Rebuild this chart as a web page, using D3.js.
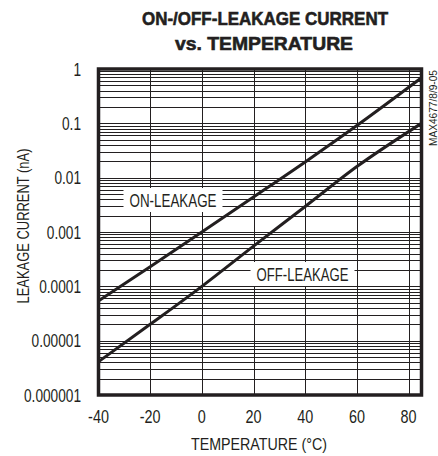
<!DOCTYPE html>
<html>
<head>
<meta charset="utf-8">
<script src="https://cdn.jsdelivr.net/npm/d3@7"></script>
<style>
  body { margin: 0; background: #fff; }
  text { font-family: "Liberation Sans", Arial, sans-serif; fill: #231f20; }
</style>
</head>
<body>
<svg class="display"></svg>
<script>
// data
const temps = [-40, -20, 0, 20, 40, 60, 85];
const onLeak = [5.4e-5, 2.3e-4, 1.0e-3, 4.4e-3, 1.95e-2, 9.1e-2, 6.9e-1];
const offLeak = [4.1e-6, 2.0e-5, 1.0e-4, 5.5e-4, 2.95e-3, 1.6e-2, 1.0e-1];
const xTicks = [-40, -20, 0, 20, 40, 60, 80];
const yTicks = [1e-6, 1e-5, 1e-4, 1e-3, 1e-2, 1e-1, 1];
const yTickLabels = ['0.000001', '0.00001', '0.0001', '0.001', '0.01', '0.1', '1'];

const totalWidth = 438, totalHeight = 456;
const plot = { left: 98.5, right: 421.5, top: 69, bottom: 395 };

const svg = d3.select('.display')
	.attr('width', totalWidth)
	.attr('height', totalHeight);

const xScale = d3.scaleLinear().domain([-40, 85]).range([plot.left, plot.right]);
const yScale = d3.scaleLog().domain([1e-6, 1]).range([plot.bottom, plot.top]);

//condensed text: squeeze a normal font horizontally
function narrow(parent, x, y, txt, size, sx, anchor) {
	return parent.append('text')
		.attr('transform', 'translate(' + x + ',' + y + ') scale(' + sx + ',1)')
		.attr('text-anchor', anchor || 'middle')
		.style('font-size', size + 'px')
		.text(txt);
}

//grid - minor log lines
const minor = [];
for (let e = -6; e < 0; e++) {
	for (let m = 1; m < 10; m++) minor.push(m * Math.pow(10, e));
}
svg.append('g')
	.selectAll('line')
	.data(minor)
	.enter()
	.append('line')
	.attr('x1', plot.left)
	.attr('x2', plot.right)
	.attr('y1', (d) => Math.round(yScale(d)) + 0.5)
	.attr('y2', (d) => Math.round(yScale(d)) + 0.5)
	.attr('stroke', '#231f20')
	.attr('stroke-width', 1);

//grid - vertical lines
svg.append('g')
	.selectAll('line')
	.data(xTicks.slice(1))
	.enter()
	.append('line')
	.attr('x1', (d) => Math.round(xScale(d)) + 0.5)
	.attr('x2', (d) => Math.round(xScale(d)) + 0.5)
	.attr('y1', plot.top)
	.attr('y2', plot.bottom)
	.attr('stroke', '#231f20')
	.attr('stroke-width', 1);

//curves
const line = d3.line()
	.x((d) => xScale(d[0]))
	.y((d) => yScale(d[1]))
	.curve(d3.curveMonotoneX);

[onLeak, offLeak].forEach((series) => {
	svg.append('path')
		.datum(temps.map((t, i) => [t, series[i]]))
		.attr('d', line)
		.attr('fill', 'none')
		.attr('stroke', '#231f20')
		.attr('stroke-width', 3);
});

//curve labels with white boxes
function addLabel(txt, cx, cy, w) {
	const g = svg.append('g');
	g.append('rect')
		.attr('x', cx - w / 2 - 6)
		.attr('y', cy - 12)
		.attr('width', w + 12)
		.attr('height', 24)
		.attr('fill', '#fff');
	g.append('text')
		.attr('x', cx)
		.attr('y', cy)
		.attr('dy', '0.37em')
		.attr('text-anchor', 'middle')
		.attr('textLength', w)
		.attr('lengthAdjust', 'spacingAndGlyphs')
		.style('font-size', '18px')
		.text(txt);
}
addLabel('ON-LEAKAGE', 173, 200, 87);
addLabel('OFF-LEAKAGE', 302.5, 274, 92);

//frame
svg.append('rect')
	.attr('x', plot.left)
	.attr('y', plot.top)
	.attr('width', plot.right - plot.left)
	.attr('height', plot.bottom - plot.top)
	.attr('fill', 'none')
	.attr('stroke', '#231f20')
	.attr('stroke-width', 3.5);

//tick labels
const yLab = svg.append('g');
yTicks.forEach((d, i) => {
	narrow(yLab, 81, yScale(d) + 6.5, yTickLabels[i], 18, 0.76, 'end');
});

const xLab = svg.append('g');
xTicks.forEach((d) => {
	narrow(xLab, xScale(d), 423, d, 18, 0.8);
});

//axis titles
svg.append('text')
	.attr('x', 259)
	.attr('y', 450)
	.attr('text-anchor', 'middle')
	.attr('textLength', 136)
	.attr('lengthAdjust', 'spacingAndGlyphs')
	.style('font-size', '17px')
	.text('TEMPERATURE (°C)');

svg.append('text')
	.attr('transform', 'translate(29,226) rotate(-90)')
	.attr('text-anchor', 'middle')
	.attr('textLength', 155)
	.attr('lengthAdjust', 'spacingAndGlyphs')
	.style('font-size', '17px')
	.text('LEAKAGE CURRENT (nA)');

//title
[['ON-/OFF-LEAKAGE CURRENT', 265, 25, 246], ['vs. TEMPERATURE', 264, 50, 178]].forEach((t) => {
	svg.append('text')
		.attr('x', t[1])
		.attr('y', t[2])
		.attr('text-anchor', 'middle')
		.attr('textLength', t[3])
		.attr('lengthAdjust', 'spacingAndGlyphs')
		.style('font-size', '19px')
		.style('font-weight', 'bold')
		.style('stroke', '#231f20')
		.style('stroke-width', 0.6)
		.text(t[0]);
});

//figure code
svg.append('text')
	.attr('transform', 'translate(437,146) rotate(-90)')
	.attr('text-anchor', 'start')
	.attr('textLength', 76)
	.attr('lengthAdjust', 'spacingAndGlyphs')
	.style('font-size', '10px')
	.text('MAX4677/8/9-05');
</script>
</body>
</html>
